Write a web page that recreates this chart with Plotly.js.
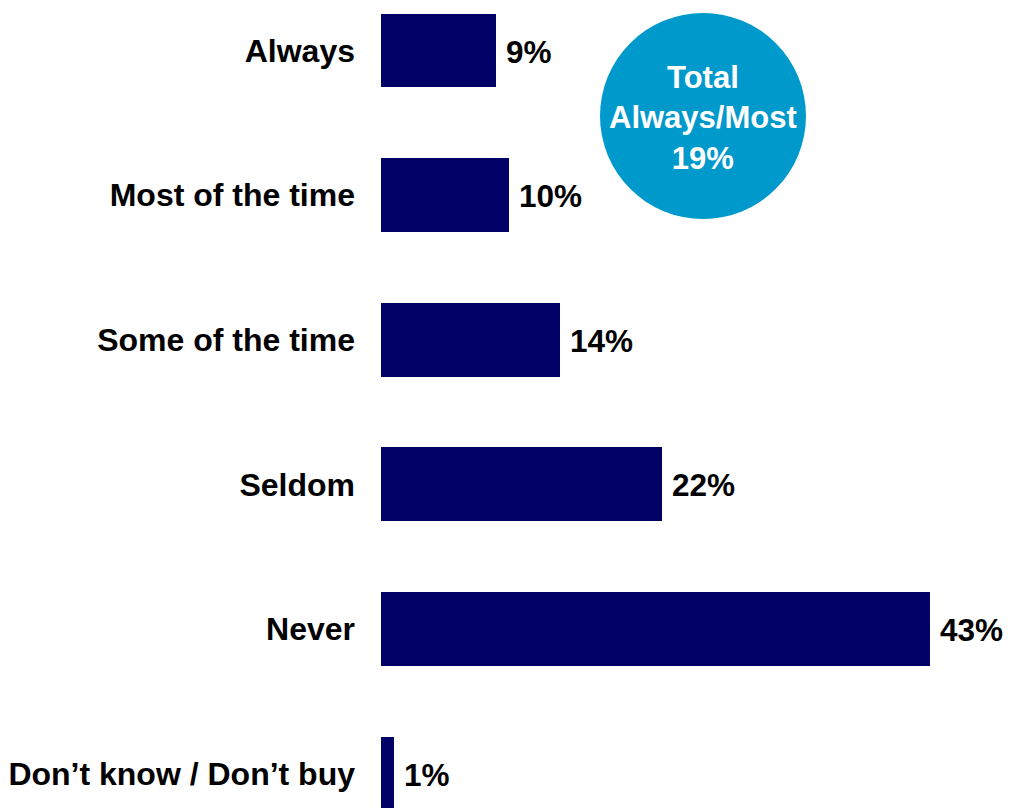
<!DOCTYPE html>
<html>
<head>
<meta charset="utf-8">
<script src="https://cdn.plot.ly/plotly-3.0.1.min.js"></script>
<style>html,body{margin:0;padding:0;background:#fff;}#chart{width:1010px;height:808px;}</style>
</head>
<body>
<div id="chart"></div>
<script>
const categories = ["Always", "Most of the time", "Some of the time", "Seldom", "Never", "Don\u2019t know / Don\u2019t buy"];
const values = [9, 10, 14, 22, 43, 1];
const valueLabels = ["9%", "10%", "14%", "22%", "43%", "1%"];
const totalLabel = ["Total", "Always/Most", "19%"];

const W = 1010, H = 808;
const mL = 381, mR = 0, mT = 0, mB = 0;
const plotW = W - mL - mR, plotH = H - mT - mB;
const pxPerPct = 12.77;
const pxPerCat = 144.6;
const firstCenter = 50.5;

const FONT = "Liberation Sans, Arial, sans-serif";

const trace = {
  type: "bar",
  orientation: "h",
  x: values,
  y: categories.map((c, i) => i),
  marker: {color: "#000066"},
  width: 0.51,
  hoverinfo: "none",
  cliponaxis: false
};

const annotations = values.map((v, i) => ({
  x: v, y: i, xref: "x", yref: "y",
  text: valueLabels[i], showarrow: false,
  xanchor: "left", yanchor: "middle", xshift: 8, yshift: -1,
  font: {family: FONT, size: 31.5, color: "#000", weight: "bold"}
}));

// circle callout (pixel geometry converted to paper coords)
const cx = 703, cy = 116, r = 103;
const toPX = p => (p - mL) / plotW;
const toPY = p => 1 - (p - mT) / plotH;
annotations.push({
  x: toPX(cx), y: toPY(cy + 2), xref: "paper", yref: "paper",
  text: totalLabel.join("<br>"), showarrow: false,
  xanchor: "center", yanchor: "middle",
  font: {family: FONT, size: 31, color: "#fff", weight: "bold"}
});

const layout = {
  width: W, height: H,
  margin: {l: mL, r: mR, t: mT, b: mB, pad: 0},
  paper_bgcolor: "#fff", plot_bgcolor: "#fff",
  showlegend: false,
  bargap: 0,
  xaxis: {
    range: [0, plotW / pxPerPct],
    showgrid: false, zeroline: false, showline: false,
    showticklabels: false, ticks: "", fixedrange: true
  },
  yaxis: {
    range: [(H - firstCenter) / pxPerCat, -firstCenter / pxPerCat],
    tickmode: "array",
    tickvals: categories.map((c, i) => i),
    ticktext: categories,
    showgrid: false, zeroline: false, showline: false,
    ticks: "", ticklabelstandoff: 25,
    tickfont: {family: FONT, size: 32, color: "#000", weight: "bold"},
    fixedrange: true
  },
  shapes: [{
    type: "circle", xref: "paper", yref: "paper",
    x0: toPX(cx - r), x1: toPX(cx + r),
    y0: toPY(cy + r), y1: toPY(cy - r),
    fillcolor: "#0099CC", line: {width: 0}, layer: "below"
  }],
  annotations: annotations
};

Plotly.newPlot("chart", [trace], layout, {displayModeBar: false, staticPlot: true});
</script>
</body>
</html>
